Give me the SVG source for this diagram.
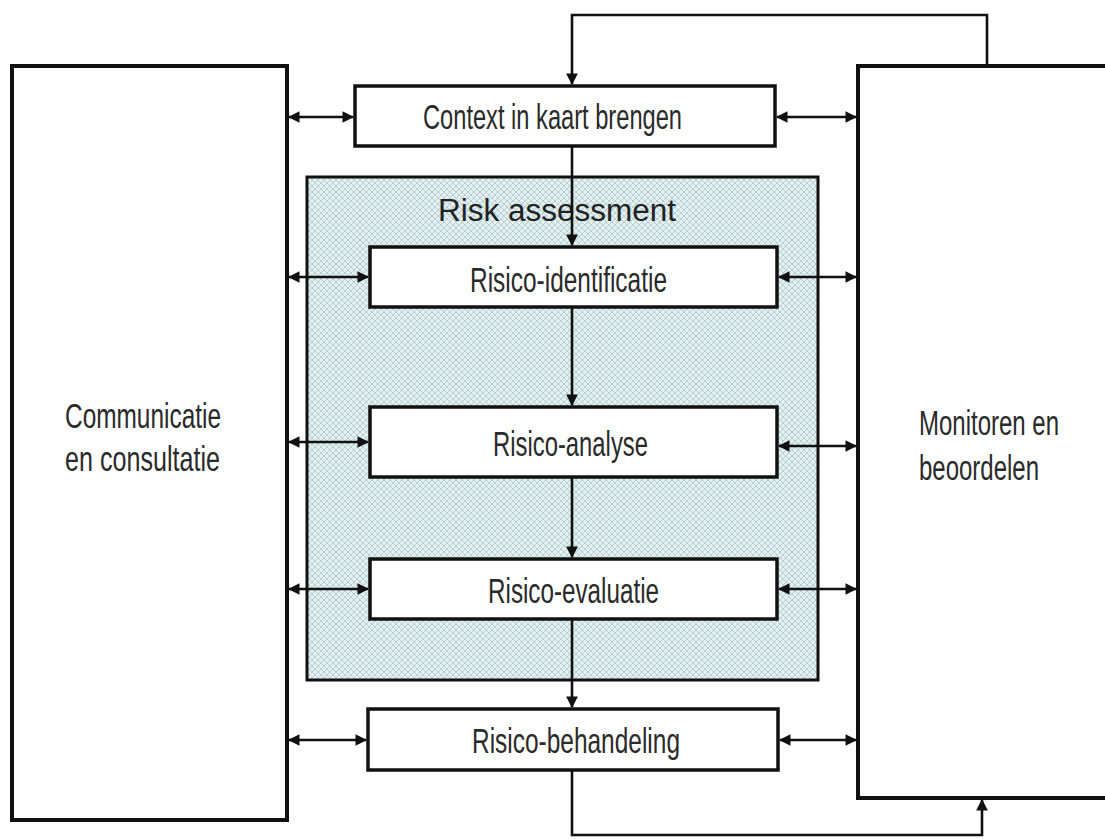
<svg xmlns="http://www.w3.org/2000/svg" width="1105" height="839" viewBox="0 0 1105 839">
<defs>
<pattern id="hatch" width="6" height="6" patternUnits="userSpaceOnUse">
<rect width="6" height="6" fill="#e4eff0"/>
<path d="M0 0L6 6M6 0L0 6" stroke="#b6d0d4" stroke-width="1"/>
</pattern>
<marker id="ah" viewBox="0 0 10 10" refX="9" refY="5" markerWidth="4.5" markerHeight="4.5" orient="auto-start-reverse" markerUnits="strokeWidth">
<path d="M0 0L10 5L0 10z" fill="#111"/>
</marker>
</defs>
<style>
.big{fill:#fff;stroke:#111;stroke-width:4}
.box{fill:#fff;stroke:#111;stroke-width:3.5}
.con{fill:none;stroke:#111;stroke-width:2.6}
.lbl{font-family:"Liberation Sans",Arial,sans-serif;font-size:35px;fill:#2a2a2a;text-anchor:start}
.rlbl{font-family:"Liberation Sans",Arial,sans-serif;font-size:24px;fill:#2a2a2a;text-anchor:start}
.title{font-family:"Liberation Sans",Arial,sans-serif;font-size:31px;fill:#222}
</style>
<rect width="1105" height="839" fill="#fff"/>
<g id="communicatie">
<rect class="big" x="12" y="66" width="275" height="754"/>
<text class="lbl" x="65" y="428" textLength="156" lengthAdjust="spacingAndGlyphs">Communicatie</text>
<text class="lbl" x="65" y="471" textLength="155" lengthAdjust="spacingAndGlyphs">en consultatie</text>
</g>
<g id="monitoren">
<path class="big" d="M1105 66H858V798H1105"/>
<text class="rlbl" transform="translate(919 435) scale(1 1.46)">Monitoren en</text>
<text class="rlbl" transform="translate(919 480) scale(1 1.46)">beoordelen</text>
</g>
<g id="risk-assessment">
<rect x="307" y="177" width="511" height="503" fill="url(#hatch)" stroke="#111" stroke-width="3"/>
<text class="title" x="438" y="221" textLength="238" lengthAdjust="spacingAndGlyphs">Risk assessment</text>
</g>
<g id="connectors">
<path class="con" d="M987 66V15H572V84" marker-end="url(#ah)"/>
<path class="con" d="M572 146V245" marker-end="url(#ah)"/>
<path class="con" d="M572 307V405" marker-end="url(#ah)"/>
<path class="con" d="M572 477V557" marker-end="url(#ah)"/>
<path class="con" d="M572 619V707" marker-end="url(#ah)"/>
<path class="con" d="M572 770V835H982V800" marker-end="url(#ah)"/>
<path class="con" d="M289 117H353" marker-start="url(#ah)" marker-end="url(#ah)"/>
<path class="con" d="M777 117H856" marker-start="url(#ah)" marker-end="url(#ah)"/>
<path class="con" d="M289 277H368" marker-start="url(#ah)" marker-end="url(#ah)"/>
<path class="con" d="M779 277H856" marker-start="url(#ah)" marker-end="url(#ah)"/>
<path class="con" d="M289 442H368" marker-start="url(#ah)" marker-end="url(#ah)"/>
<path class="con" d="M779 446H856" marker-start="url(#ah)" marker-end="url(#ah)"/>
<path class="con" d="M289 589H368" marker-start="url(#ah)" marker-end="url(#ah)"/>
<path class="con" d="M779 589H856" marker-start="url(#ah)" marker-end="url(#ah)"/>
<path class="con" d="M289 740H366" marker-start="url(#ah)" marker-end="url(#ah)"/>
<path class="con" d="M780 740H856" marker-start="url(#ah)" marker-end="url(#ah)"/>
</g>
<g id="context">
<rect class="box" x="355" y="86" width="420" height="60"/>
<text class="lbl" x="423" y="129" textLength="259" lengthAdjust="spacingAndGlyphs">Context in kaart brengen</text>
</g>
<g id="identificatie">
<rect class="box" x="370" y="247" width="407" height="60"/>
<text class="lbl" x="470" y="292" textLength="197" lengthAdjust="spacingAndGlyphs">Risico-identificatie</text>
</g>
<g id="analyse">
<rect class="box" x="370" y="407" width="407" height="70"/>
<text class="lbl" x="493" y="456" textLength="155" lengthAdjust="spacingAndGlyphs">Risico-analyse</text>
</g>
<g id="evaluatie">
<rect class="box" x="370" y="559" width="407" height="60"/>
<text class="lbl" x="488" y="603" textLength="171" lengthAdjust="spacingAndGlyphs">Risico-evaluatie</text>
</g>
<g id="behandeling">
<rect class="box" x="368" y="709" width="410" height="61"/>
<text class="lbl" x="472" y="753" textLength="208" lengthAdjust="spacingAndGlyphs">Risico-behandeling</text>
</g>
</svg>
